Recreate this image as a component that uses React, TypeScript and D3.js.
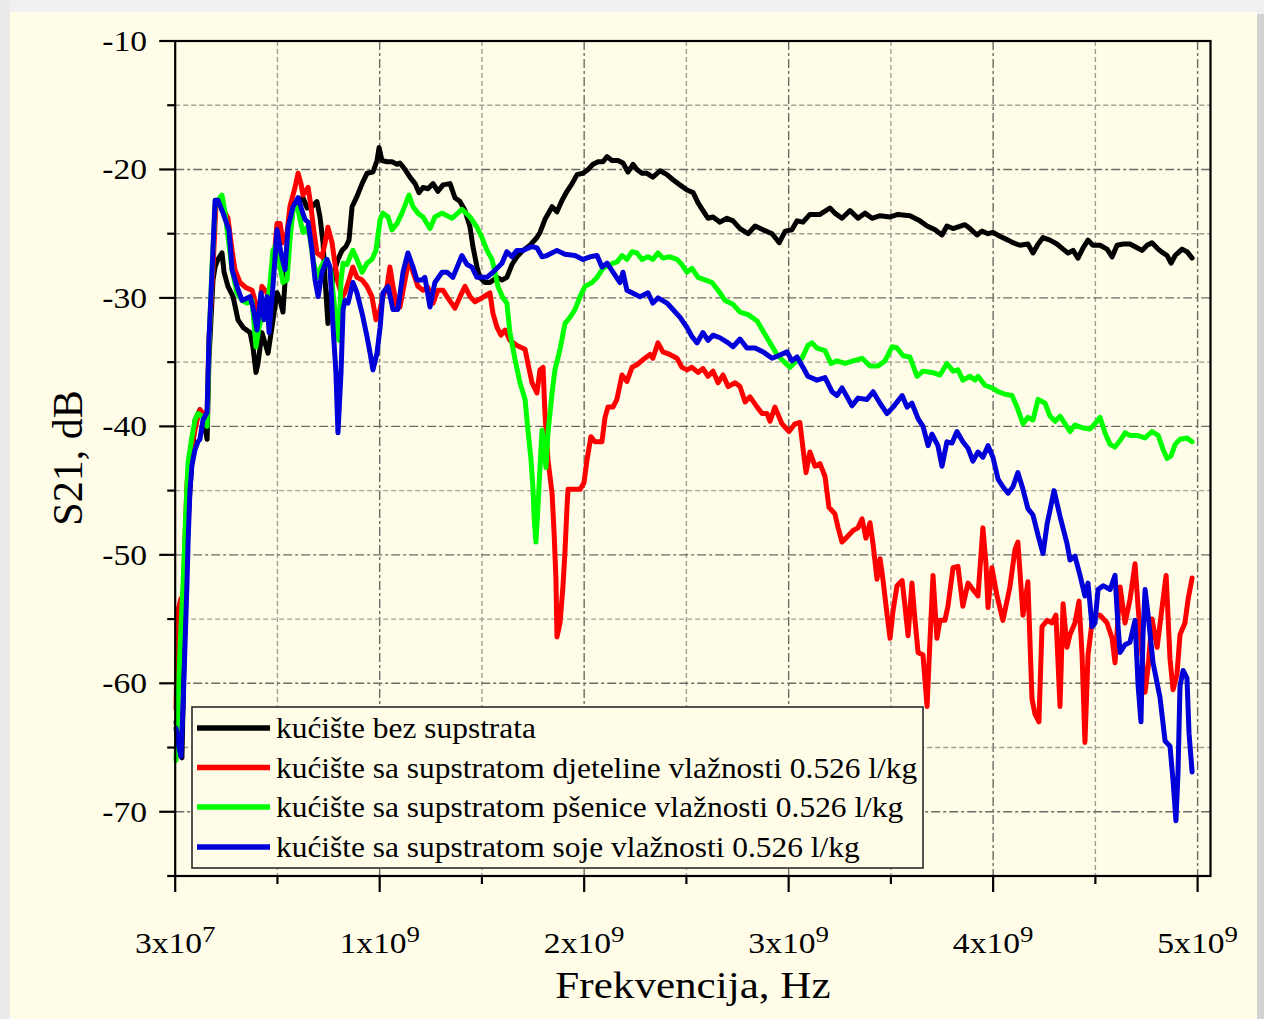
import React from 'react';
import * as d3 from 'd3';

// Frequency in GHz, S21 in dB
const blackF = [0.004,0.023,0.033,0.043,0.053,0.063,0.072,0.087,0.097,0.121,0.136,0.156,0.165,0.185,0.195,0.209,0.229,0.239,0.258,0.283,0.307,0.332,0.366,0.380,0.395,0.405,0.424,0.439,0.454,0.473,0.498,0.513,0.527,0.542,0.557,0.576,0.601,0.625,0.645,0.669,0.693,0.708,0.723,0.733,0.747,0.767,0.781,0.796,0.816,0.835,0.850,0.865,0.889,0.914,0.938,0.967,0.987,0.997,1.011,1.036,1.060,1.085,1.099,1.124,1.148,1.173,1.192,1.212,1.236,1.261,1.285,1.310,1.344,1.368,1.393,1.417,1.442,1.456,1.476,1.490,1.515,1.539,1.574,1.598,1.622,1.647,1.671,1.701,1.735,1.769,1.784,1.808,1.843,1.867,1.892,1.916,1.941,1.965,1.994,2.019,2.043,2.068,2.092,2.112,2.136,2.165,2.190,2.214,2.239,2.258,2.283,2.307,2.336,2.371,2.405,2.434,2.468,2.503,2.533,2.557,2.581,2.606,2.630,2.664,2.698,2.728,2.762,2.802,2.836,2.875,2.919,2.954,2.983,3.016,3.041,3.070,3.104,3.153,3.202,3.226,3.261,3.300,3.339,3.373,3.408,3.447,3.496,3.535,3.593,3.642,3.677,3.716,3.750,3.774,3.804,3.862,3.887,3.921,3.945,3.975,3.999,4.033,4.073,4.097,4.131,4.170,4.195,4.220,4.244,4.278,4.312,4.342,4.366,4.391,4.415,4.440,4.464,4.488,4.523,4.557,4.582,4.606,4.635,4.669,4.704,4.728,4.753,4.777,4.807,4.831,4.851,4.870,4.890,4.924,4.948,4.973];
const blackS = [-63.0,-65.5,-65.8,-58.0,-52.0,-47.5,-45.0,-41.5,-39.5,-38.7,-39.2,-41.0,-34.8,-28.6,-27.6,-27.0,-26.5,-28.0,-29.1,-29.9,-31.7,-32.3,-32.7,-33.8,-35.8,-35.1,-32.7,-33.5,-34.3,-32.3,-29.6,-30.2,-31.1,-27.6,-23.9,-23.0,-22.5,-22.2,-23.0,-22.9,-22.5,-23.7,-25.7,-28.6,-32.0,-28.8,-27.8,-27.0,-26.3,-26.0,-25.5,-22.9,-22.1,-21.1,-20.3,-20.2,-19.3,-18.3,-19.3,-19.4,-19.4,-19.6,-19.5,-20.0,-20.6,-21.1,-21.8,-21.4,-21.5,-21.1,-21.7,-21.2,-21.1,-22.2,-22.5,-23.2,-24.5,-26.0,-27.6,-28.4,-28.8,-28.8,-28.4,-28.6,-28.4,-27.4,-26.8,-26.3,-25.9,-25.3,-24.9,-23.9,-22.9,-23.3,-22.4,-21.7,-21.1,-20.4,-20.3,-20.0,-19.6,-19.4,-19.4,-19.0,-19.3,-19.3,-19.5,-20.2,-19.6,-20.0,-20.3,-20.3,-20.6,-20.1,-20.4,-20.8,-21.2,-21.6,-21.8,-22.6,-23.2,-23.8,-23.7,-24.1,-23.8,-24.0,-24.6,-25.0,-24.4,-24.7,-25.0,-25.7,-24.8,-24.7,-24.0,-24.1,-23.5,-23.5,-23.0,-23.4,-23.8,-23.2,-23.8,-23.4,-23.8,-23.6,-23.7,-23.5,-23.6,-24.0,-24.4,-24.7,-25.1,-24.4,-24.6,-24.3,-24.6,-25.1,-24.8,-25.0,-24.9,-25.2,-25.5,-25.7,-25.9,-25.8,-26.5,-25.8,-25.3,-25.5,-25.8,-26.2,-26.5,-26.3,-26.9,-26.1,-25.5,-25.9,-25.9,-26.2,-26.8,-25.9,-25.8,-25.8,-26.1,-26.3,-25.9,-25.7,-26.2,-26.5,-26.7,-27.3,-26.7,-26.2,-26.4,-26.9];

const redF = [0.004,0.009,0.014,0.028,0.038,0.048,0.058,0.072,0.087,0.107,0.121,0.136,0.156,0.165,0.185,0.200,0.214,0.239,0.258,0.278,0.292,0.317,0.346,0.376,0.390,0.405,0.424,0.449,0.464,0.478,0.498,0.513,0.527,0.547,0.561,0.586,0.601,0.615,0.625,0.650,0.664,0.679,0.693,0.718,0.733,0.747,0.767,0.781,0.796,0.816,0.830,0.850,0.869,0.889,0.914,0.938,0.962,0.982,0.997,1.016,1.036,1.050,1.065,1.085,1.099,1.124,1.143,1.163,1.187,1.212,1.236,1.261,1.285,1.310,1.329,1.368,1.393,1.417,1.442,1.466,1.500,1.539,1.554,1.574,1.593,1.613,1.637,1.671,1.711,1.725,1.745,1.769,1.784,1.799,1.808,1.823,1.843,1.853,1.862,1.867,1.882,1.896,1.906,1.916,1.921,1.946,1.980,1.999,2.014,2.033,2.053,2.087,2.102,2.116,2.141,2.160,2.185,2.209,2.234,2.258,2.288,2.322,2.336,2.361,2.385,2.419,2.454,2.478,2.503,2.527,2.557,2.581,2.606,2.630,2.655,2.679,2.704,2.738,2.762,2.787,2.811,2.846,2.870,2.894,2.909,2.933,2.967,3.002,3.031,3.055,3.070,3.085,3.104,3.129,3.153,3.178,3.197,3.226,3.242,3.261,3.286,3.315,3.339,3.359,3.378,3.398,3.413,3.432,3.447,3.461,3.481,3.496,3.511,3.530,3.555,3.569,3.584,3.603,3.618,3.633,3.657,3.677,3.691,3.706,3.725,3.740,3.764,3.779,3.804,3.828,3.852,3.877,3.901,3.926,3.950,3.965,3.975,3.994,4.019,4.048,4.082,4.107,4.121,4.146,4.170,4.190,4.205,4.224,4.239,4.264,4.288,4.307,4.327,4.342,4.361,4.376,4.400,4.420,4.435,4.449,4.464,4.488,4.523,4.557,4.582,4.596,4.621,4.645,4.669,4.694,4.709,4.728,4.743,4.758,4.777,4.802,4.826,4.846,4.865,4.880,4.899,4.914,4.938,4.953,4.973];
const redS = [-62.0,-57.0,-54.3,-53.4,-53.6,-48.8,-44.4,-42.4,-41.0,-39.5,-38.7,-39.0,-38.9,-33.3,-27.6,-22.6,-22.4,-23.2,-23.8,-26.3,-27.8,-28.8,-29.2,-29.4,-30.2,-32.0,-29.1,-29.6,-31.2,-28.0,-24.2,-24.2,-25.7,-24.9,-22.9,-21.4,-20.3,-21.1,-22.0,-21.4,-22.9,-24.9,-26.5,-26.8,-25.7,-24.5,-25.7,-27.3,-28.8,-29.9,-29.6,-28.6,-27.6,-28.4,-28.6,-29.1,-29.9,-31.7,-31.2,-29.9,-29.1,-27.6,-29.1,-30.7,-30.7,-28.6,-27.0,-28.0,-29.1,-29.4,-29.2,-30.4,-29.4,-29.4,-29.9,-30.8,-29.9,-29.1,-29.9,-30.3,-30.0,-29.6,-31.2,-32.3,-32.9,-32.5,-33.3,-33.7,-34.0,-35.1,-36.6,-37.4,-35.6,-35.4,-38.9,-42.6,-45.2,-48.3,-51.9,-56.4,-55.3,-52.5,-49.8,-46.3,-44.9,-44.9,-44.9,-44.4,-42.6,-40.8,-41.2,-41.2,-39.3,-38.5,-38.5,-37.9,-36.0,-36.5,-35.4,-35.2,-34.8,-34.4,-34.7,-33.5,-34.2,-34.4,-34.7,-35.4,-35.6,-35.4,-35.8,-35.5,-36.1,-35.7,-36.6,-36.0,-36.9,-36.6,-36.9,-38.1,-37.7,-38.5,-39.0,-39.0,-39.6,-38.5,-39.8,-40.4,-39.8,-39.7,-41.7,-43.6,-42.0,-43.1,-42.9,-43.9,-46.3,-46.8,-47.9,-49.0,-48.6,-48.1,-47.9,-47.2,-48.7,-47.5,-49.2,-51.9,-50.3,-51.9,-54.6,-56.5,-54.3,-52.4,-52.0,-54.0,-56.3,-52.2,-55.1,-57.6,-57.8,-61.8,-56.7,-51.6,-56.5,-55.1,-55.1,-54.0,-51.0,-50.9,-54.0,-52.2,-52.7,-53.2,-47.9,-50.7,-54.1,-51.0,-53.2,-55.1,-52.5,-49.6,-49.0,-54.7,-52.1,-61.2,-62.4,-63.0,-55.6,-55.1,-55.3,-54.7,-61.8,-53.8,-57.2,-56.2,-55.3,-53.6,-57.8,-64.6,-57.8,-54.7,-54.7,-55.3,-56.5,-58.4,-52.5,-55.3,-53.5,-50.7,-54.1,-57.8,-60.7,-58.7,-55.0,-57.2,-54.1,-51.6,-58.1,-60.5,-59.3,-56.2,-55.3,-53.5,-51.8];

const greenF = [0.004,0.014,0.028,0.038,0.053,0.063,0.082,0.097,0.111,0.131,0.156,0.165,0.180,0.195,0.209,0.229,0.244,0.258,0.278,0.302,0.327,0.351,0.376,0.395,0.410,0.429,0.449,0.464,0.478,0.498,0.513,0.527,0.547,0.561,0.576,0.596,0.615,0.625,0.645,0.659,0.674,0.693,0.708,0.723,0.742,0.762,0.772,0.791,0.801,0.811,0.821,0.840,0.855,0.869,0.889,0.914,0.938,0.962,0.982,1.002,1.016,1.041,1.060,1.085,1.109,1.124,1.143,1.163,1.187,1.212,1.246,1.270,1.305,1.354,1.402,1.442,1.476,1.500,1.525,1.549,1.564,1.578,1.603,1.622,1.637,1.662,1.686,1.711,1.725,1.740,1.750,1.755,1.764,1.774,1.784,1.794,1.804,1.813,1.823,1.843,1.857,1.882,1.906,1.931,1.955,1.980,2.004,2.039,2.063,2.092,2.126,2.160,2.185,2.209,2.234,2.258,2.283,2.312,2.336,2.361,2.385,2.419,2.454,2.478,2.503,2.527,2.557,2.591,2.625,2.655,2.689,2.728,2.762,2.802,2.846,2.875,2.909,2.943,2.973,3.007,3.031,3.065,3.094,3.114,3.138,3.178,3.207,3.236,3.276,3.315,3.359,3.398,3.437,3.471,3.506,3.530,3.560,3.593,3.628,3.657,3.701,3.740,3.774,3.804,3.828,3.852,3.887,3.911,3.926,3.960,3.994,4.024,4.058,4.092,4.117,4.146,4.170,4.195,4.220,4.254,4.278,4.303,4.327,4.352,4.376,4.400,4.435,4.474,4.498,4.523,4.547,4.572,4.596,4.621,4.645,4.669,4.704,4.743,4.777,4.807,4.831,4.851,4.870,4.890,4.914,4.948,4.973];
const greenS = [-66.0,-61.3,-55.6,-52.5,-46.3,-42.8,-40.8,-39.5,-39.0,-39.2,-40.0,-33.8,-27.6,-22.9,-22.4,-22.0,-23.4,-25.2,-27.8,-29.6,-30.2,-30.4,-30.2,-33.8,-32.3,-31.2,-30.7,-28.8,-26.3,-25.7,-27.6,-28.8,-28.6,-25.5,-23.2,-22.8,-24.2,-24.9,-24.5,-25.3,-27.0,-28.4,-27.8,-27.3,-27.0,-28.0,-29.6,-32.3,-33.3,-28.6,-27.3,-27.4,-26.8,-26.3,-27.0,-28.0,-27.3,-27.0,-26.3,-23.9,-23.4,-23.7,-24.7,-24.2,-23.4,-22.8,-22.0,-22.9,-23.4,-23.7,-24.6,-23.7,-23.4,-23.8,-23.1,-23.7,-24.5,-25.3,-26.3,-27.0,-28.0,-29.1,-30.0,-30.4,-32.7,-34.8,-36.6,-37.9,-40.3,-42.6,-44.9,-47.0,-49.0,-46.3,-43.2,-40.3,-41.6,-43.2,-40.5,-37.4,-35.6,-34.0,-32.0,-31.5,-30.9,-29.9,-29.1,-28.8,-28.4,-27.7,-27.4,-27.2,-26.7,-27.0,-26.4,-26.5,-27.0,-26.8,-27.0,-26.5,-26.9,-26.8,-27.0,-27.4,-28.0,-27.7,-28.4,-28.6,-28.8,-29.4,-30.2,-30.5,-31.1,-31.3,-31.8,-32.6,-33.5,-34.4,-34.9,-35.4,-35.0,-34.7,-33.7,-33.5,-33.9,-34.1,-35.1,-34.9,-35.1,-34.9,-34.7,-35.3,-35.3,-34.9,-33.8,-33.9,-34.5,-34.6,-36.1,-35.7,-35.8,-36.0,-35.1,-35.7,-35.6,-36.4,-36.1,-36.4,-36.1,-36.8,-37.0,-37.3,-37.5,-37.6,-38.5,-39.8,-39.3,-39.5,-37.9,-38.2,-39.2,-39.6,-39.2,-39.8,-40.4,-39.9,-40.1,-40.2,-39.8,-39.3,-40.5,-41.4,-41.6,-41.1,-40.5,-40.7,-40.7,-40.9,-40.4,-40.7,-41.8,-42.5,-42.3,-41.4,-41.0,-40.9,-41.2];

const blueF = [0.004,0.014,0.028,0.038,0.048,0.058,0.063,0.072,0.082,0.097,0.111,0.121,0.136,0.156,0.165,0.180,0.195,0.209,0.234,0.263,0.278,0.302,0.327,0.366,0.380,0.400,0.420,0.434,0.449,0.459,0.478,0.498,0.517,0.537,0.552,0.576,0.601,0.620,0.635,0.650,0.669,0.684,0.699,0.718,0.742,0.757,0.772,0.786,0.796,0.811,0.821,0.830,0.845,0.869,0.889,0.914,0.938,0.953,0.967,0.987,1.002,1.016,1.041,1.065,1.089,1.114,1.138,1.163,1.182,1.207,1.221,1.246,1.270,1.305,1.329,1.358,1.402,1.427,1.451,1.476,1.525,1.554,1.598,1.622,1.647,1.671,1.701,1.745,1.769,1.794,1.818,1.867,1.906,1.955,1.994,2.029,2.063,2.087,2.112,2.141,2.175,2.190,2.209,2.234,2.273,2.312,2.336,2.361,2.405,2.434,2.468,2.503,2.527,2.552,2.581,2.606,2.630,2.664,2.704,2.728,2.762,2.796,2.836,2.875,2.919,2.949,2.992,3.016,3.041,3.070,3.094,3.138,3.178,3.212,3.236,3.261,3.310,3.339,3.383,3.413,3.447,3.481,3.511,3.555,3.579,3.603,3.633,3.657,3.682,3.701,3.730,3.750,3.774,3.799,3.823,3.852,3.877,3.901,3.926,3.950,3.975,3.999,4.024,4.048,4.073,4.097,4.121,4.146,4.170,4.195,4.220,4.244,4.264,4.298,4.327,4.361,4.376,4.400,4.425,4.449,4.464,4.484,4.498,4.513,4.538,4.572,4.596,4.611,4.621,4.645,4.669,4.694,4.709,4.723,4.733,4.743,4.758,4.782,4.816,4.841,4.865,4.880,4.894,4.904,4.914,4.929,4.948,4.958,4.973];
const blueS = [-63.5,-64.6,-65.7,-62.0,-57.0,-52.0,-49.0,-45.0,-43.0,-41.8,-41.2,-41.0,-39.5,-38.9,-33.3,-28.0,-22.4,-22.4,-23.4,-24.7,-27.8,-29.1,-30.2,-29.9,-30.7,-32.5,-29.6,-31.7,-29.9,-32.7,-29.1,-24.7,-26.5,-27.8,-24.5,-22.9,-22.2,-23.2,-23.9,-24.1,-26.3,-28.6,-29.9,-28.0,-27.0,-27.6,-32.3,-35.8,-40.5,-35.8,-30.9,-30.2,-30.4,-28.8,-29.6,-31.2,-33.0,-34.3,-35.6,-34.3,-32.3,-29.6,-29.1,-30.9,-30.9,-28.0,-26.5,-27.6,-28.6,-28.6,-28.4,-30.7,-28.8,-28.0,-28.0,-28.4,-26.7,-27.4,-27.6,-28.4,-28.4,-28.0,-27.3,-26.4,-26.8,-26.3,-26.3,-26.0,-26.1,-26.8,-26.7,-26.3,-26.6,-26.7,-27.0,-26.8,-26.7,-27.6,-27.3,-28.0,-28.8,-28.0,-29.4,-29.6,-29.9,-29.6,-30.4,-30.0,-30.4,-30.9,-31.5,-32.3,-33.0,-33.5,-32.7,-33.3,-32.9,-33.1,-33.5,-33.8,-33.2,-33.9,-33.9,-34.2,-34.7,-34.5,-34.2,-34.9,-34.6,-35.4,-36.1,-36.4,-36.2,-37.3,-37.6,-37.0,-38.4,-37.8,-37.9,-37.3,-38.2,-39.0,-38.5,-37.6,-38.5,-38.2,-39.4,-40.0,-41.5,-40.6,-41.5,-43.1,-41.2,-41.3,-40.4,-41.2,-41.7,-42.7,-42.0,-42.4,-41.5,-42.4,-44.1,-44.7,-45.2,-44.7,-43.6,-44.9,-46.4,-46.9,-48.5,-49.9,-47.6,-45.0,-47.0,-49.1,-50.4,-50.1,-51.6,-53.2,-52.2,-55.6,-55.3,-52.7,-52.4,-52.7,-51.6,-55.6,-57.6,-57.0,-56.8,-55.1,-60.2,-63.0,-56.2,-52.7,-54.7,-58.4,-61.1,-64.5,-64.9,-67.6,-70.7,-67.0,-60.2,-59.0,-59.6,-63.9,-66.9];

const seriesNames = [
  'kućište bez supstrata',
  'kućište sa supstratom djeteline vlažnosti 0.526 l/kg',
  'kućište sa supstratom pšenice vlažnosti 0.526 l/kg',
  'kućište sa supstratom soje vlažnosti 0.526 l/kg',
];
const seriesColors = ['#000000', '#ff0000', '#00ff00', '#0000d8'];

const yMajorTicks = [-10, -20, -30, -40, -50, -60, -70];
const yMinorTicks = [-15, -25, -35, -45, -55, -65, -75];
const xMajorTicks = [0, 1, 2, 3, 4, 5];
const xMajorMantissa = ['3x10', '1x10', '2x10', '3x10', '4x10', '5x10'];
const xMajorExp = ['7', '9', '9', '9', '9', '9'];
const xMinorTicks = [0.5, 1.5, 2.5, 3.5, 4.5];
const hGrid = [-15, -20, -25, -30, -35, -40, -45, -50, -55, -60, -65, -70];
const vGrid = [0.5, 1, 1.5, 2, 2.5, 3, 3.5, 4, 4.5, 5];

const FONT = "'Liberation Serif', 'Times New Roman', serif";
const PANEL = '#fffde8';

export default function App() {
  const W = 1264, H = 1019;
  const L = 175.2, R = 1210.5, T = 41, B = 876;
  const x = d3.scaleLinear().domain([0, 5.063]).range([L, R]);
  const y = d3.scaleLinear().domain([-75, -10]).range([B, T]);
  const line = d3.line<[number, number]>().x(d => x(d[0])).y(d => y(d[1]));
  const all = [[blackF, blackS], [redF, redS], [greenF, greenS], [blueF, blueS]];
  const paths = all.map(([f, s]) => line(f.map((v, i) => [v, s[i]] as [number, number])) || '');

  const legX = 192, legY = 707, legW = 731, legH = 161;
  const legRows = [728, 767.5, 807, 847];

  return (
    <svg width={W} height={H} style={{ position: 'absolute', left: 0, top: 0 }}>
      <rect x={0} y={0} width={W} height={H} fill="#f1f1f1" />
      <rect x={0} y={0} width={10} height={H} fill="#ebebeb" />
      <rect x={1255} y={14} width={9} height={H} fill="#d2d2d2" />
      <rect x={10} y={12} width={1247} height={H - 12} fill={PANEL} />

      {/* grid */}
      {vGrid.map(v => {
        const major = Number.isInteger(v);
        return (
          <line key={'vg' + v} x1={x(v)} x2={x(v)} y1={T} y2={B}
            stroke={major ? '#6e6a64' : '#a49e94'} strokeWidth={1.4}
            strokeDasharray={major ? '9,3,3,3' : '5,3'} />
        );
      })}
      {hGrid.map(v => {
        const major = v % 10 === 0;
        return (
          <line key={'hg' + v} x1={L} x2={R} y1={y(v)} y2={y(v)}
            stroke={major ? '#6e6a64' : '#a49e94'} strokeWidth={1.4}
            strokeDasharray={major ? '9,3,3,3' : '5,3'} />
        );
      })}

      {/* data */}
      {paths.map((d, i) => (
        <path key={'s' + i} d={d} fill="none" stroke={seriesColors[i]} strokeWidth={5}
          strokeLinejoin="round" strokeLinecap="round" />
      ))}

      {/* frame */}
      <rect x={L} y={T} width={R - L} height={B - T} fill="none" stroke="#000" strokeWidth={2.2} />

      {/* y ticks */}
      {yMajorTicks.map(v => (
        <line key={'ymt' + v} x1={L - 16} x2={L} y1={y(v)} y2={y(v)} stroke="#000" strokeWidth={2.2} />
      ))}
      {yMinorTicks.map(v => (
        <line key={'ymn' + v} x1={L - 8} x2={L} y1={y(v)} y2={y(v)} stroke="#000" strokeWidth={2.2} />
      ))}
      {yMajorTicks.map(v => (
        <text key={'yl' + v} transform={`translate(147,${y(v) + 10}) scale(1.12,1)`}
          textAnchor="end" fontFamily={FONT} fontSize={30} fill="#000">{String(v)}</text>
      ))}

      {/* x ticks */}
      {xMajorTicks.map(v => (
        <line key={'xmt' + v} x1={x(v)} x2={x(v)} y1={B} y2={B + 16} stroke="#000" strokeWidth={2.2} />
      ))}
      {xMinorTicks.map(v => (
        <line key={'xmn' + v} x1={x(v)} x2={x(v)} y1={B} y2={B + 8} stroke="#000" strokeWidth={2.2} />
      ))}
      {xMajorTicks.map((v, i) => (
        <text key={'xl' + v} transform={`translate(${x(v)},953) scale(1.12,1)`}
          textAnchor="middle" fontFamily={FONT} fontSize={30} fill="#000">
          {xMajorMantissa[i]}<tspan dy={-11} fontSize={24}>{xMajorExp[i]}</tspan>
        </text>
      ))}

      {/* axis titles */}
      <text transform="translate(693,998) scale(1.12,1)" textAnchor="middle" fontFamily={FONT}
        fontSize={38.5} fill="#000">Frekvencija, Hz</text>
      <text transform="translate(82,458) rotate(-90)" textAnchor="middle" fontFamily={FONT}
        fontSize={42} fill="#000">S21, dB</text>

      {/* legend */}
      <rect x={legX} y={legY} width={legW} height={legH} fill={PANEL} stroke="#2a2a2a" strokeWidth={1.6} />
      {seriesNames.map((name, i) => (
        <g key={'lg' + i}>
          <line x1={197} x2={270} y1={legRows[i]} y2={legRows[i]} stroke={seriesColors[i]} strokeWidth={5.5} />
          <text transform={`translate(276,${legRows[i] + 10}) scale(1.065,1)`} fontFamily={FONT}
            fontSize={29.5} fill="#000">{name}</text>
        </g>
      ))}
    </svg>
  );
}
